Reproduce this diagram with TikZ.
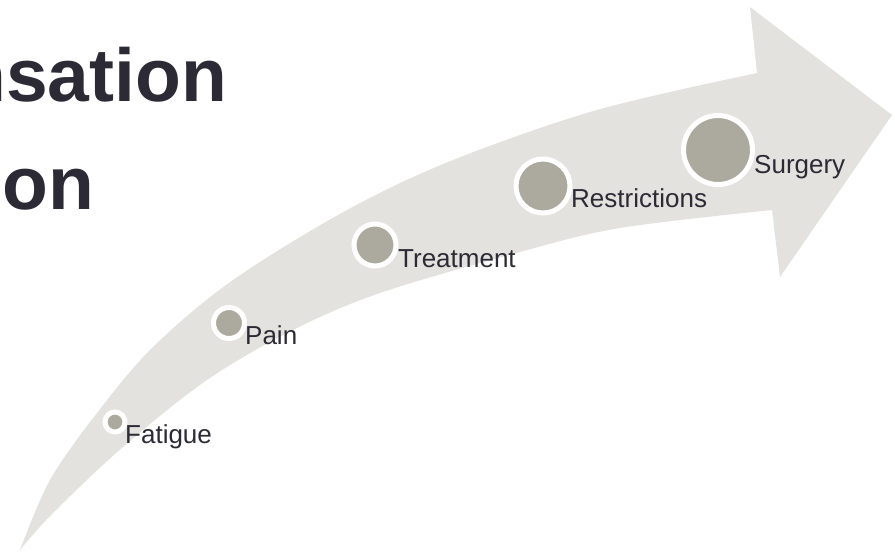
\documentclass[tikz,border=0pt]{standalone}
\usepackage{fontspec}
\setmainfont{Liberation Sans}
\usetikzlibrary{positioning}
\definecolor{arrowgray}{HTML}{E3E2DE}
\definecolor{dotgray}{HTML}{ACAA9E}
\definecolor{inkdark}{HTML}{2B2A35}

\begin{document}
\begin{tikzpicture}[
  x=1pt, y=-1pt,
  dot/.style = {circle, fill=dotgray, draw=white, line width=5pt, inner sep=0pt},
  stage/.style = {anchor=base west, inner sep=0pt, text=inkdark,
                  font=\fontsize{26}{26}\selectfont},
  heading/.style = {anchor=base west, inner sep=0pt, text=inkdark,
                    font=\fontsize{75}{75}\selectfont\bfseries}
]
  \useasboundingbox (0,0) rectangle (895,552);

  % curved arrow
  \fill[arrowgray]
    plot[smooth, tension=0.55] coordinates {(20,550) (50,480) (97,413) (153,347)
      (233,280) (347,210) (453,160) (597,110) (757,73)}
    -- (750,7) -- (892,115) -- (780,277) -- (772,210)
    -- plot[smooth, tension=0.55] coordinates {(772,210) (620,228) (520,252)
      (380,293) (293,330) (207,380) (123,447) (53,513) (20,550)}
    -- cycle;

  % stages
  \node[dot, minimum size=20pt] (fatigue)      at (115,422) {};
  \node[dot, minimum size=31pt] (pain)         at (229,323) {};
  \node[dot, minimum size=42pt] (treatment)    at (375,245) {};
  \node[dot, minimum size=54pt] (restrictions) at (543,186) {};
  \node[dot, minimum size=69pt] (surgery)      at (718,150) {};

  \node[stage] (fatigue-lbl)      at (125,443) {Fatigue};
  \node[stage] (pain-lbl)         at (245,344) {Pain};
  \node[stage] (treatment-lbl)    at (398,267) {Treatment};
  \node[stage] (restrictions-lbl) at (571,207) {Restrictions};
  \node[stage] (surgery-lbl)      at (754,173) {Surgery};

  % title, cut at the left edge
  \node[heading] (title-a) at (-40,101) {nsation};
  \node[heading] (title-b) at (2,209)   {on};
\end{tikzpicture}
\end{document}
